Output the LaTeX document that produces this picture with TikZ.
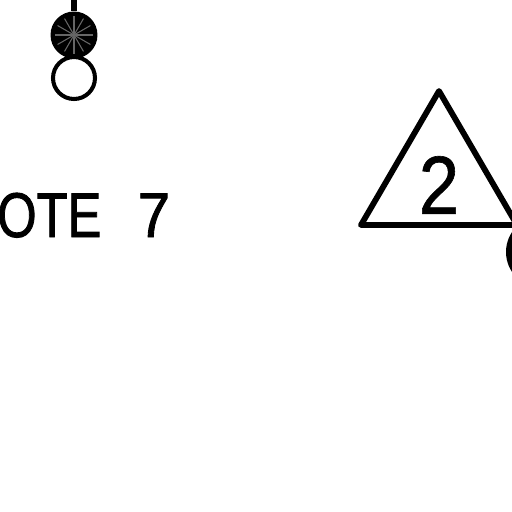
\documentclass[tikz,border=0pt]{standalone}
\usepackage{fontspec}
\setmainfont{Liberation Sans}
\tikzset{
  wire/.style={line width=3.3pt,line join=round,line cap=round},
  openball/.style={circle,draw,fill=white,line width=2.3pt,minimum size=0.84cm,inner sep=0pt},
  darkball/.style={circle,fill=black,minimum size=0.94cm,inner sep=0pt},
  ray/.style={black!60,line width=0.6pt},
  notetext/.style={font=\fontsize{36}{36}\selectfont\addfontfeature{FakeBold=1.5},inner sep=0pt,anchor=base west,xscale=0.8},
  marktext/.style={font=\fontsize{47}{47}\selectfont\addfontfeature{FakeBold=0.8},inner sep=0pt,xscale=0.88}
}
\begin{document}
\begin{tikzpicture}[x=0.02cm,y=-0.02cm]
  \useasboundingbox (0,0) rectangle (512,512);
  \clip (0,0) rectangle (512,512);

  % Hanging balls
  \coordinate (top) at (74,0);
  \node[openball] (lower) at (74,78) {};
  \node[darkball] (upper) at (74,35) {};
  \draw[line width=3pt] (top) -- (upper);
  \foreach \a in {0,30,...,330}
    \draw[ray] (upper.center) -- ++(\a:19);

  % Note
  \node[notetext] (note) at (-3,237) {OTE\hspace{0.72em}\scalebox{1.15}[1]{7}};

  % Triangle mark
  \coordinate (apex) at (439,91);
  \coordinate (left) at (361,225);
  \coordinate (right) at (517,225);
  \draw[wire] (left) -- (apex) -- (right) -- cycle;
  \node[marktext] (mark) at (439,185) {2};

  % Cut circle at the edge
  \draw[line width=3.4pt] (542,252) circle (33);
\end{tikzpicture}
\end{document}
